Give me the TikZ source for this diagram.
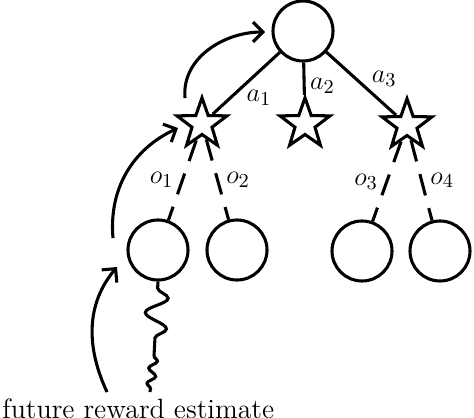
\documentclass[tikz,border=0pt]{standalone}
\usetikzlibrary{shapes.geometric,decorations.pathmorphing,arrows.meta}
\tikzset{
  belief/.style={circle,draw,line width=1.4pt,minimum size=0.96cm,inner sep=0pt},
  act/.style={star,star points=5,star point ratio=2.5,draw,line width=1.4pt,minimum size=0.84cm,inner sep=0pt},
  link/.style={line width=1.4pt},
  obs/.style={line width=1.4pt,dash pattern=on 10pt off 6pt},
  flow/.style={-{Straight Barb[length=4.5pt,width=9pt]},line width=1.4pt},
}
\begin{document}
\begin{tikzpicture}[x=1.6mm,y=1.6mm,font=\fontsize{12.7}{15}\selectfont]
\useasboundingbox (0,0) rectangle (47.4,-41.8);
   \node[belief] at (30.3,-3.1)  (root) {};
   \node[act] at (20.2,-12.4)  (s1) {};
   \node[act] at (30.5,-12.4)  (s2) {};
   \node[act] at (40.7,-12.5)  (s3) {};
   \node[belief] at (15.8,-25.0)  (b1) {};
   \node[belief] at (23.7,-25.0)  (b2) {};
   \node[belief] at (36.2,-25.1)  (b3) {};
   \node[belief] at (44.0,-25.1)  (b4) {};
   \node[anchor=base west,inner sep=0pt] at (0.2,-41.8) (fre) {future reward estimate};

    \draw[link] (root) -- (s1) node[pos=0.55,below right,inner sep=1pt] {$a_1$};
    \draw[link] (root) -- (s2) node[pos=0.72,right,inner sep=2pt] {$a_2$};
    \draw[link] (root) -- (s3) node[pos=0.6,above right,inner sep=1pt] {$a_3$};

    \draw[obs] (s1) -- (b1) node[midway,left] {$o_1$};
    \draw[obs] (s1) -- (b2) node[midway,right] {$o_2$};
    \draw[obs] (s3) -- (b3) node[midway,left] {$o_3$};
    \draw[obs] (s3) -- (b4) node[midway,right] {$o_4$};

    % rollout from the leaf
    \coordinate (mid) at (15.4,-35.6);
    \coordinate (roll) at (15.0,-39.2);
    \draw[link,decorate,decoration={snake,amplitude=5pt,segment length=14pt,pre length=3pt,post length=2pt}] (b1.south) -- (mid);
    \draw[link,decorate,decoration={snake,amplitude=1.8pt,segment length=7pt,post length=1pt}] (mid) -- (roll);

    \coordinate (t1) at (10.7,-39.2);
    \coordinate (h1) at (11.7,-26.7);
    \coordinate (t2) at (11.3,-23.8);
    \coordinate (h2) at (17.8,-12.8);
    \coordinate (t3) at (18.5,-9.8);
    \coordinate (h3) at (26.5,-3.2);
    \draw[flow] (t1) to[out=115,in=-130] (h1);
    \draw[flow] (t2) to[out=95,in=-155] (h2);
    \draw[flow] (t3) to[out=95,in=180] (h3);
\end{tikzpicture}
\end{document}
